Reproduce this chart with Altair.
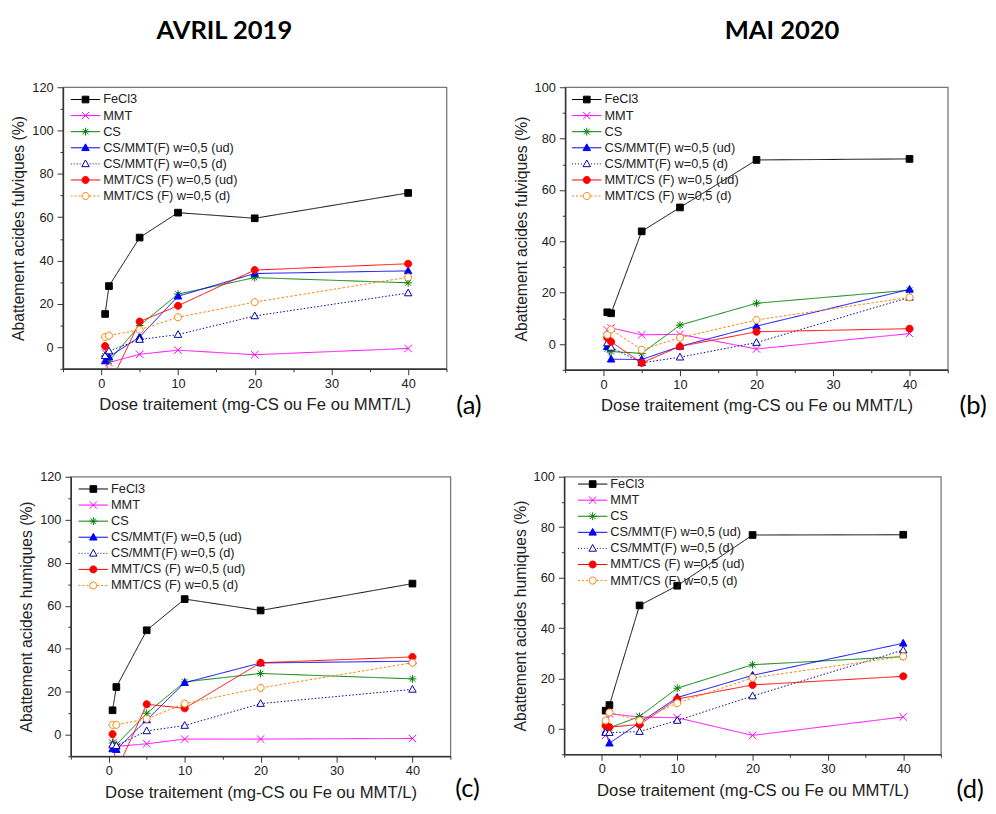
import altair as alt
import pandas as pd

# ---------------- data ----------------
dose = [0.5, 1, 5, 10, 20, 40]
series_names = ["FeCl3", "MMT", "CS", "CS/MMT(F) w=0,5 (ud)", "CS/MMT(F) w=0,5 (d)",
                "MMT/CS (F) w=0,5 (ud)", "MMT/CS (F) w=0,5 (d)"]

# (a) AVRIL 2019 - acides fulviques
a_fecl3 = [15.3, 28.2, 50.6, 62.1, 59.5, 71.2]
a_mmt = [-2.6, -7.1, -3.3, -1.4, -3.5, -0.6]
a_cs = [-4.1, -6.4, 10.0, 24.5, 32.1, 29.7]
a_csmmt_ud = [-6.4, -4.5, 4.7, 23.5, 34.0, 35.2]
a_csmmt_d = [-4.0, -1.8, 3.5, 5.8, 14.4, 25.0]
a_mmtcs_ud = [0.5, -18.0, 11.8, 19.1, 35.6, 38.5]
a_mmtcs_d = [4.7, 5.3, 8.0, 13.8, 20.8, 32.3]

# (b) MAI 2020 - acides fulviques
b_fecl3 = [12.4, 12.0, 43.9, 53.2, 71.7, 72.1]
b_mmt = [5.5, 6.3, 3.6, 3.8, -1.9, 4.1]
b_cs = [-1.9, -2.9, -3.6, 7.4, 15.9, 21.0]
b_csmmt_ud = [-1.0, -5.9, -6.0, -0.9, 7.0, 21.3]
b_csmmt_d = [0.4, -1.3, -7.3, -5.1, 0.6, 18.2]
b_mmtcs_ud = [2.5, 0.9, -7.3, -0.9, 4.8, 6.0]
b_mmtcs_d = [3.6, 5.7, -2.2, 2.5, 9.4, 18.2]

# (c) AVRIL 2019 - acides humiques
c_fecl3 = [11.4, 22.2, 48.6, 63.1, 57.8, 70.3]
c_mmt = [-3.8, -5.4, -4.2, -2.0, -2.0, -1.7]
c_cs = [-3.8, -4.6, 10.0, 24.6, 28.5, 26.0]
c_csmmt_ud = [-6.6, -6.9, 6.9, 24.2, 33.4, 34.2]
c_csmmt_d = [-4.8, -5.1, 1.8, 4.3, 14.5, 21.1]
c_mmtcs_ud = [0.3, -17.0, 14.2, 12.3, 33.5, 36.2]
c_mmtcs_d = [4.6, 4.6, 7.4, 14.5, 21.8, 33.5]

# (d) MAI 2020 - acides humiques
d_fecl3 = [7.3, 9.5, 49.0, 56.8, 76.9, 77.0]
d_mmt = [-2.5, 6.1, 4.8, 4.5, -2.5, 4.8]
d_cs = [0.9, 0.5, 5.0, 16.2, 25.5, 28.7]
d_csmmt_ud = [-1.0, -5.6, 2.5, 12.5, 21.3, 34.0]
d_csmmt_d = [-1.4, -1.4, -1.0, 3.4, 13.1, 31.3]
d_mmtcs_ud = [1.4, 0.8, 1.8, 11.9, 17.5, 20.9]
d_mmtcs_d = [3.4, 6.6, 3.4, 10.3, 20.3, 28.8]

panel_values = {
    "a": [a_fecl3, a_mmt, a_cs, a_csmmt_ud, a_csmmt_d, a_mmtcs_ud, a_mmtcs_d],
    "b": [b_fecl3, b_mmt, b_cs, b_csmmt_ud, b_csmmt_d, b_mmtcs_ud, b_mmtcs_d],
    "c": [c_fecl3, c_mmt, c_cs, c_csmmt_ud, c_csmmt_d, c_mmtcs_ud, c_mmtcs_d],
    "d": [d_fecl3, d_mmt, d_cs, d_csmmt_ud, d_csmmt_d, d_mmtcs_ud, d_mmtcs_d],
}

# ---------------- styles ----------------
colors = ["#000000", "#FF00FF", "#008000", "#0000FF", "#000099", "#FF0000", "#FF8000"]
fills = ["#000000", "transparent", "transparent", "#0000FF", "#FFFFFF", "#FF0000", "#FFFFFF"]
dashes = [[1, 0], [1, 0], [1, 0], [1, 0], [1.5, 2], [1, 0], [2.5, 2]]


def square(h):
    return f"M{-h},{-h}H{h}V{h}H{-h}Z"


def xmark(h):
    return f"M{-h},{-h}L{h},{h}M{-h},{h}L{h},{-h}"


def star(h):
    d = round(h * 0.72, 3)
    return f"M{-h},0H{h}M0,{-h}V{h}M{-d},{-d}L{d},{d}M{-d},{d}L{d},{-d}"


def tri(h):
    return f"M0,{round(-h * 1.05, 3)}L{h},{round(h * 0.75, 3)}H{-h}Z"


def circ(r):
    return f"M{-r},0A{r},{r} 0 1,0 {r},0A{r},{r} 0 1,0 {-r},0Z"


def dotted(a, b, d, g):
    out, x = [], a
    while x < b - 1e-9:
        e = min(x + d, b)
        out.append(f"M{x:.2f},0H{e:.2f}")
        x = e + g
    return "".join(out)


marker_shapes = [square(0.85), xmark(0.95), star(1.0), tri(0.95), tri(0.95), circ(0.9), circ(0.9)]
solid = "M-3,0H3"
legend_shapes = [
    solid + square(0.68),
    solid + xmark(0.76),
    solid + star(0.8),
    solid + tri(0.76),
    dotted(-3, -0.85, 0.2, 0.4) + dotted(0.85, 3, 0.2, 0.4) + tri(0.76),
    solid + circ(0.72),
    dotted(-3, -0.8, 0.4, 0.4) + dotted(0.8, 3, 0.4, 0.4) + circ(0.72),
]

FONT = "Liberation Sans"
X_TITLE = "Dose traitement (mg-CS ou Fe ou MMT/L)"


def make_panel(key, ytitle, ymax, w, h, leg_x, leg_y, lab_x, lab_y, title=None):
    rows = []
    for name, vals in zip(series_names, panel_values[key]):
        for x, y in zip(dose, vals):
            rows.append({"dose": x, "val": y, "series": name})
    df = pd.DataFrame(rows)

    xenc = alt.X("dose:Q", title=X_TITLE,
                 scale=alt.Scale(domain=[-5, 45], nice=False, zero=False),
                 axis=alt.Axis(values=list(range(-5, 50, 5)),
                               labelExpr="(datum.value % 10 === 0 && datum.value >= 0 && datum.value <= 40) ? datum.label : ''",
                               tickSize={"condition": {"test": "datum.value % 10 === 0", "value": 6}, "value": 3},
                               labelPadding=3, titlePadding=7, titleFontSize=17))
    yenc = alt.Y("val:Q", title=ytitle,
                 scale=alt.Scale(domain=[-10, ymax], nice=False, zero=False),
                 axis=alt.Axis(values=list(range(-10, ymax + 1, 10)),
                               labelExpr="(datum.value % 20 === 0) ? datum.label : ''",
                               tickSize={"condition": {"test": "datum.value % 20 === 0", "value": 6}, "value": 3},
                               labelPadding=4, titlePadding=5))

    stroke_scale = alt.Scale(domain=series_names, range=colors)
    fill_scale = alt.Scale(domain=series_names, range=fills)

    base = alt.Chart(df)
    lines = base.mark_line(clip=True, strokeWidth=1).encode(
        x=xenc, y=yenc,
        stroke=alt.Stroke("series:N", scale=stroke_scale, legend=None),
        strokeDash=alt.StrokeDash("series:N", scale=alt.Scale(domain=series_names, range=dashes), legend=None),
    )
    points = base.mark_point(clip=True, strokeWidth=1, opacity=1, size=64).encode(
        x=xenc, y=yenc,
        stroke=alt.Stroke("series:N", scale=stroke_scale, legend=None),
        fill=alt.Fill("series:N", scale=fill_scale, legend=None),
        shape=alt.Shape("series:N", scale=alt.Scale(domain=series_names, range=marker_shapes), legend=None),
    )
    leg = alt.Legend(title=None, orient="none", legendX=leg_x, legendY=leg_y,
                     labelFont=FONT, labelFontSize=13, labelColor="#222",
                     symbolSize=100, symbolStrokeWidth=1, labelOffset=11.5,
                     rowPadding=2.4, padding=0, symbolOffset=0)
    legend_layer = base.transform_filter("false").mark_point(strokeWidth=1, opacity=1).encode(
        x=xenc, y=yenc,
        stroke=alt.Stroke("series:N", scale=stroke_scale, legend=leg),
        fill=alt.Fill("series:N", scale=fill_scale, legend=leg),
        shape=alt.Shape("series:N", scale=alt.Scale(domain=series_names, range=legend_shapes), legend=leg),
    )
    label = alt.Chart(pd.DataFrame({"t": [f"({key})"]})).mark_text(
        align="left", baseline="middle", font="Lato", fontSize=26, color="#000"
    ).encode(text="t:N", x=alt.value(lab_x), y=alt.value(lab_y))

    props = dict(width=w, height=h)
    if title is not None:
        props["title"] = title
    return alt.layer(lines, points, legend_layer, label).resolve_scale(
        shape="independent", stroke="independent", fill="independent"
    ).properties(**props)


t_a = alt.TitleParams("AVRIL 2019", font="Lato", fontSize=26, fontWeight="bold", color="#000",
                      anchor="middle", dx=-31, offset=38)
t_b = alt.TitleParams("MAI 2020", font="Lato", fontSize=26, fontWeight="bold", color="#000",
                      anchor="middle", dx=26, offset=38)

pa = make_panel("a", "Abattement acides fulviques (%)", 120, 391, 287, 16.5, 6, 401, 325, t_a)
pb = make_panel("b", "Abattement acides fulviques (%)", 100, 390, 288, 15.5, 6, 402, 325, t_b)
pc = make_panel("c", "Abattement acides humiques (%)", 120, 387, 285, 16.5, 6, 392, 318)
pd_ = make_panel("d", "Abattement acides humiques (%)", 100, 384, 283, 22.5, 1, 400, 320)

# invisible 1px placeholder: shifts the lower row 8 px to the right, as in the figure
offset_box = alt.Chart(pd.DataFrame({"t": [""]})).mark_text().encode(text="t:N").properties(
    width=1, height=1, view=alt.ViewBackground(stroke="transparent")
)

row1 = alt.hconcat(pa, pb, spacing=30)
row2 = alt.hconcat(offset_box, alt.hconcat(pc, pd_, spacing=31), spacing=7, bounds="flush")

chart = alt.vconcat(row1, row2, spacing=51).properties(
    padding={"left": 2, "top": 2, "right": 0, "bottom": 0},
    background="white",
).configure_view(
    stroke="#777", strokeWidth=1.3
).configure_axis(
    labelFont=FONT, labelFontSize=13, labelColor="#222",
    titleFont=FONT, titleFontSize=16, titleFontWeight="normal", titleColor="#222",
    domainColor="#333", domainWidth=1.5, tickColor="#333", tickWidth=1, grid=False
)

chart.save("out.html", embed_options={"renderer": "svg", "actions": False})
